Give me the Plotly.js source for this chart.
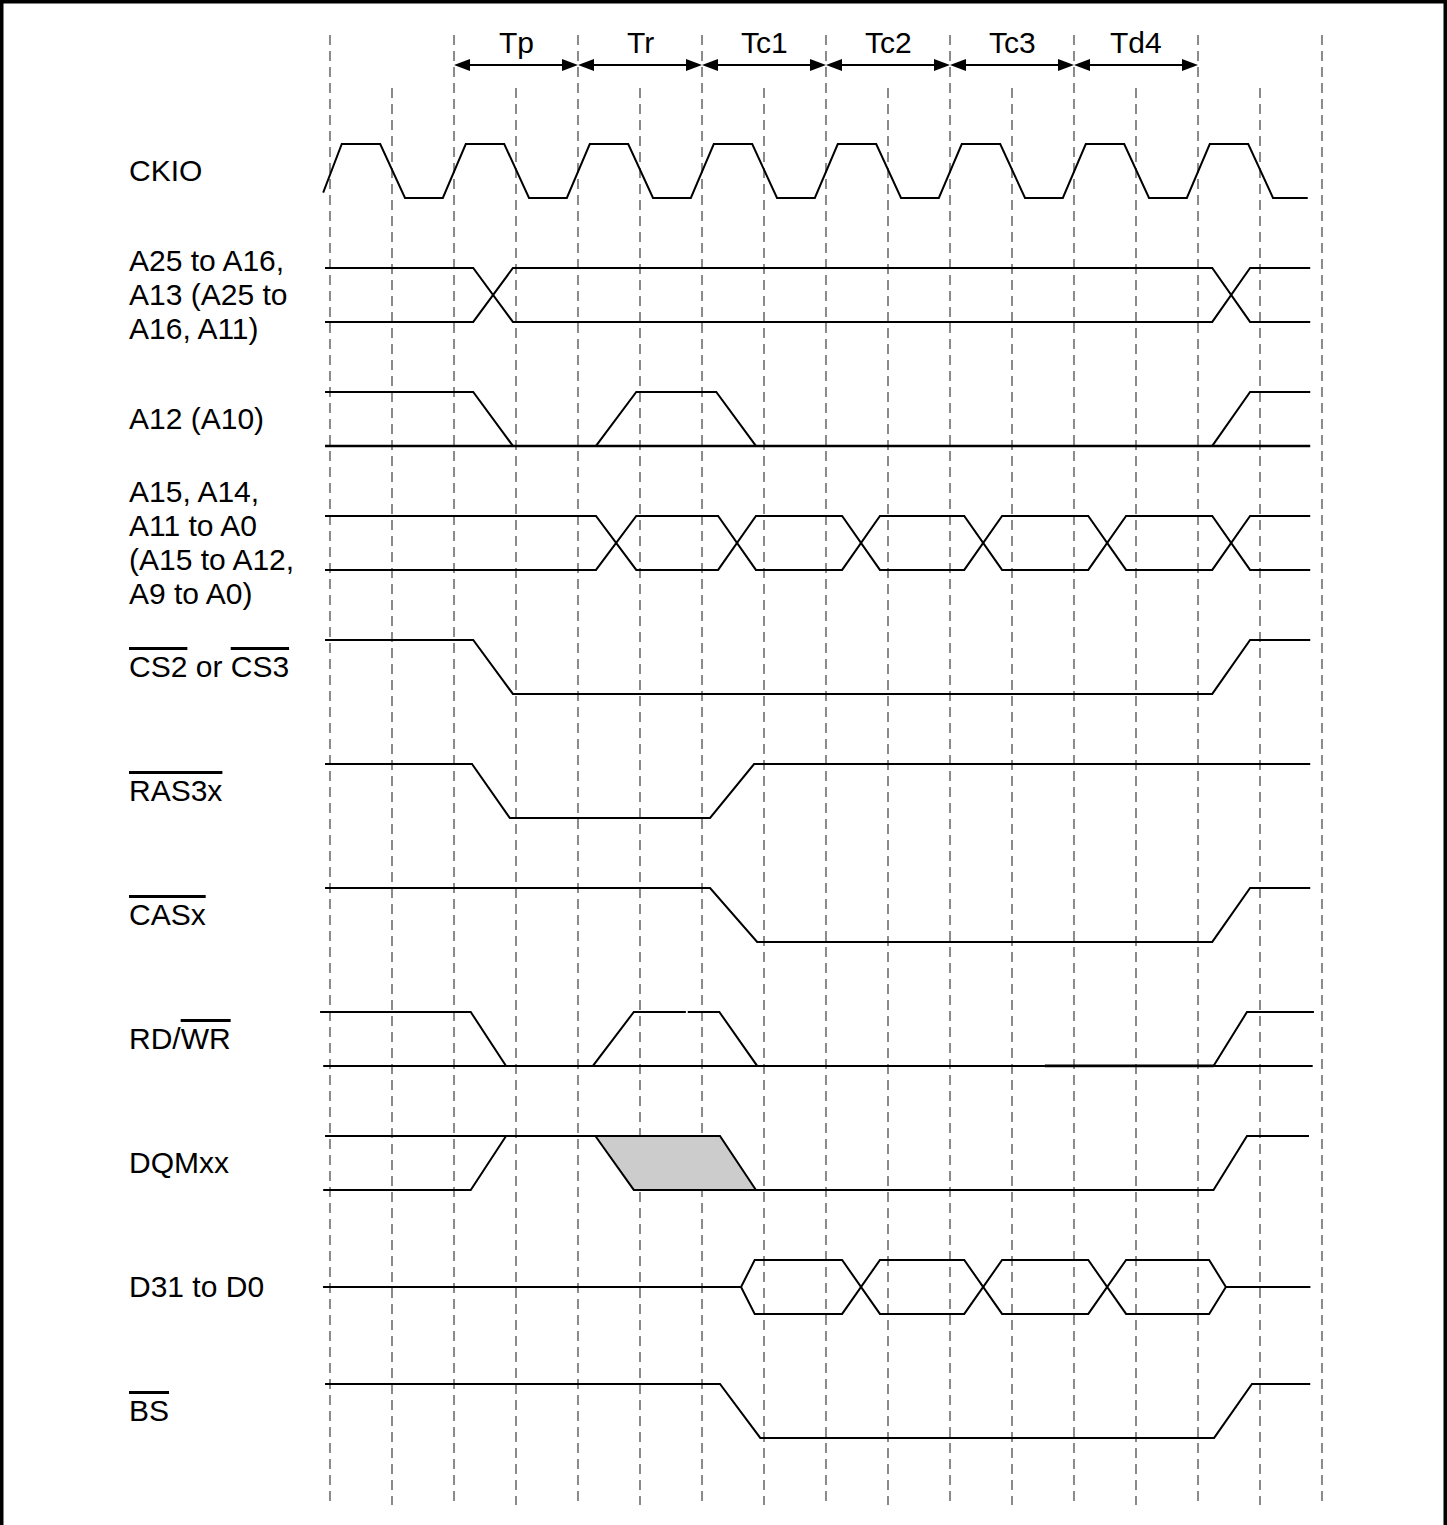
<!DOCTYPE html>
<html>
<head>
<meta charset="utf-8">
<script src="https://cdn.plot.ly/plotly-3.0.1.min.js"></script>
<style>html,body{margin:0;padding:0;background:#fff;overflow:hidden}</style>
</head>
<body>
<div id="chart" style="width:1447px;height:1525px"></div>
<script>
// Time unit: half a CKIO cycle (one dashed-line step). Level: 1 = high, 0 = low, 0.5 = high impedance.
const OV = s => '<span style="text-decoration:overline">' + s + '</span>';
const signalNames = [
  'CKIO',
  'A25 to A16,<br>A13 (A25 to<br>A16, A11)',
  'A12 (A10)',
  'A15, A14,<br>A11 to A0<br>(A15 to A12,<br>A9 to A0)',
  OV('CS2') + ' or ' + OV('CS3'),
  OV('RAS3x'),
  OV('CASx'),
  'RD/' + OV('WR'),
  'DQMxx',
  'D31 to D0',
  OV('BS')
];

const periodNames = ['Tp', 'Tr', 'Tc1', 'Tc2', 'Tc3', 'Td4'];
const periodStart = [2, 4, 6, 8, 10, 12];
const periodEnd   = [4, 6, 8, 10, 12, 14];
const gridT = [0,1,2,3,4,5,6,7,8,9,10,11,12,13,14,15,16];

const ckioT = [-0.11,0.19,0.81,1.21,1.82,2.19,2.81,3.21,3.82,4.19,4.81,5.21,5.82,6.19,6.81,7.21,7.82,
               8.19,8.81,9.21,9.82,10.19,10.81,11.21,11.82,12.19,12.81,13.21,13.82,14.19,14.81,15.21,15.77];
const ckioL = [0.1,1,1,0,0,1,1,0,0,1,1,0,0,1,1,0,0,1,1,0,0,1,1,0,0,1,1,0,0,1,1,0,0];

const addrUpT = [-0.08,2.31,2.95,14.23,14.84,15.81];
const addrUpL = [1,1,0,0,1,1];

const a12T = [-0.08,2.31,2.95,4.29,4.94,6.23,6.87,14.23,14.84,15.81];
const a12L = [1,1,0,0,1,1,0,0,1,1];
const a12BaseT = [-0.08,15.81];
const a12BaseL = [0,0];

const addrLoT = [-0.08,4.29,4.94,6.26,6.87,8.26,8.87,10.23,10.84,12.23,12.84,14.23,14.84,15.81];
const addrLoL = [1,1,0,0,1,1,0,0,1,1,0,0,1,1];

const csT = [-0.08,2.31,2.95,14.23,14.84,15.81];
const csL = [1,1,0,0,1,1];

const rasT = [-0.08,2.29,2.90,6.13,6.84,15.81];
const rasL = [1,1,0,0,1,1];

const casT = [-0.08,6.13,6.89,14.23,14.84,15.81];
const casL = [1,1,0,0,1,1];

const rdT = [-0.16,2.27,2.84,4.24,4.90,5.74,null,5.77,6.28,6.89,14.25,14.79,15.87];
const rdL = [1,1,0,0,1,1,null,1,1,0,0,1,1];
const rdBaseT = [-0.11,15.85];
const rdBaseL = [0,0];
const rdBoldT = [11.53,14.25];
const rdBoldL = [0,0];

const dqmT = [-0.08,6.29,6.87,null,-0.11,2.27,2.84,null,4.28,4.90,14.25,14.79,15.79];
const dqmL = [1,1,0,null,0,0,1,null,1,0,0,1,1];
const dqmMaskT = [4.28,6.29,6.87,4.90];
const dqmMaskL = [1,1,0,0];

const dataT = [-0.11,6.63,6.85,8.26,8.87,10.23,10.84,12.23,12.84,14.18,14.45,15.81];
const dataL = [0.5,0.5,1,1,0,0,1,1,0,0,0.5,0.5];

const bsT = [-0.08,6.29,6.94,14.26,14.87,15.81];
const bsL = [1,1,0,0,1,1];

// ---- drawing ----
const SWING = 0.435;          // vertical size of a high/low swing, in row units
const yOf = (row, lv) => lv === null ? null : row + (1 - lv) * SWING;
const FONT = {family: '"Liberation Sans", Arial, Helvetica, sans-serif', size: 30, color: '#000'};
const LINE = {color: '#000', width: 2};

const traces = [];
function wave(row, T, L, bus, width) {
  const ln = {color: '#000', width: width || 2};
  traces.push({x: T, y: L.map(v => yOf(row, v)), mode: 'lines', line: ln,
               hoverinfo: 'skip', showlegend: false, connectgaps: false});
  if (bus) traces.push({x: T, y: L.map(v => yOf(row, v === null ? null : 1 - v)), mode: 'lines',
               line: ln, hoverinfo: 'skip', showlegend: false, connectgaps: false});
}
// shaded DQM region (drawn first)
traces.push({x: dqmMaskT, y: dqmMaskL.map(v => yOf(8, v)), mode: 'lines', fill: 'toself',
             fillcolor: '#cccccc', line: {width: 0, color: 'rgba(0,0,0,0)'}, hoverinfo: 'skip', showlegend: false});

wave(0, ckioT, ckioL, false);
wave(1, addrUpT, addrUpL, true);
wave(2, a12T, a12L, false);
wave(2, a12BaseT, a12BaseL, false, 2.6);
wave(3, addrLoT, addrLoL, true);
wave(4, csT, csL, false);
wave(5, rasT, rasL, false);
wave(6, casT, casL, false);
wave(7, rdT, rdL, false);
wave(7, rdBaseT, rdBaseL, false);
wave(7, rdBoldT, rdBoldL, false, 2.8);
wave(8, dqmT, dqmL, false);
wave(9, dataT, dataL, true);
wave(10, bsT, bsL, false);

const PX_Y = 124;             // pixels per row unit
const PX_X = 62;              // pixels per time unit
const shapes = [];
// dashed guide lines
gridT.forEach(t => {
  shapes.push({type: 'line', layer: 'below', x0: t, x1: t,
    y0: t % 2 === 0 ? -109 / PX_Y : -56 / PX_Y, y1: 1361 / PX_Y,
    line: {color: '#5a5a5a', width: 1.4, dash: '10px,6px'}});
});
// period arrows
const ARROW_Y = -79 / PX_Y;
const HL = 16 / PX_X, HH = 6 / PX_Y;
const annotations = [];
periodNames.forEach((name, i) => {
  const s = periodStart[i], e = periodEnd[i];
  shapes.push({type: 'line', x0: s + HL * 0.5, x1: e - HL * 0.5, y0: ARROW_Y, y1: ARROW_Y, line: {color: '#000', width: 2}});
  shapes.push({type: 'path', fillcolor: '#000', line: {width: 0},
    path: `M${s},${ARROW_Y} L${s + HL},${ARROW_Y - HH} L${s + HL},${ARROW_Y + HH} Z`});
  shapes.push({type: 'path', fillcolor: '#000', line: {width: 0},
    path: `M${e},${ARROW_Y} L${e - HL},${ARROW_Y - HH} L${e - HL},${ARROW_Y + HH} Z`});
  annotations.push({x: (s + e) / 2, y: -102 / PX_Y, xref: 'x', yref: 'y', text: name,
    showarrow: false, font: FONT, xanchor: 'center', yanchor: 'middle'});
});
// signal labels, one annotation per text line
const LABEL_PITCH = 34 / PX_Y;
signalNames.forEach((name, row) => {
  const lines = name.split('<br>');
  const mid = row + SWING / 2;
  lines.forEach((ln, k) => {
    annotations.push({xref: 'paper', x: 127 / 1447, yref: 'y',
      y: mid + (k - (lines.length - 1) / 2) * LABEL_PITCH,
      text: ln, showarrow: false, font: FONT, xanchor: 'left', yanchor: 'middle'});
  });
});
// frame
shapes.push({type: 'rect', xref: 'paper', yref: 'paper', x0: 0, x1: 1, y0: -0.05, y1: 1,
  line: {color: '#000', width: 7}});

const layout = {
  width: 1447, height: 1525,
  margin: {l: 0, r: 0, t: 0, b: 0, pad: 0},
  paper_bgcolor: '#fff', plot_bgcolor: '#fff',
  xaxis: {range: [-330 / PX_X, 1117 / PX_X], visible: false, fixedrange: true},
  yaxis: {range: [1381 / PX_Y, -144 / PX_Y], visible: false, fixedrange: true},
  shapes: shapes, annotations: annotations, showlegend: false
};
Plotly.newPlot('chart', traces, layout, {displayModeBar: false, staticPlot: true});
</script>
</body>
</html>
